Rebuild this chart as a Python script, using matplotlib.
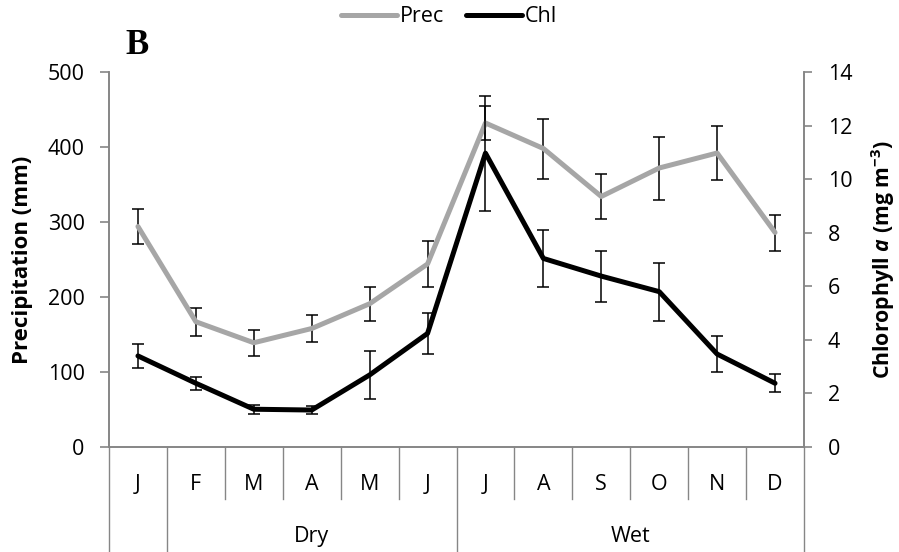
import matplotlib
matplotlib.use("Agg")
import matplotlib.pyplot as plt
import matplotlib.transforms as mtransforms

# ---------------- data ----------------
months = ["J", "F", "M", "A", "M", "J", "J", "A", "S", "O", "N", "D"]
seasons = ["Dry", "Wet"]
season_bounds = [(1, 5), (6, 11)]          # month index ranges (inclusive)
prec = [294, 167, 139, 158, 191, 244, 432, 398, 334, 372, 392, 286]
prec_err = [23, 19, 17, 18, 23, 31, 23, 40, 30, 42, 36, 24]
chl = [3.40, 2.38, 1.41, 1.38, 2.69, 4.24, 10.97, 7.04, 6.38, 5.80, 3.47, 2.38]
chl_err = [0.46, 0.25, 0.16, 0.16, 0.88, 0.78, 2.15, 1.07, 0.95, 1.08, 0.67, 0.34]
prec_ticks = [0, 100, 200, 300, 400, 500]
chl_ticks = [0, 2, 4, 6, 8, 10, 12, 14]

FONT = "Open Sans"
plt.rcParams["font.family"] = [FONT, "DejaVu Sans"]
plt.rcParams["mathtext.fontset"] = "custom"
plt.rcParams["mathtext.rm"] = f"{FONT}:bold"
plt.rcParams["mathtext.it"] = f"{FONT}:italic:bold"
plt.rcParams["mathtext.bf"] = f"{FONT}:bold"

GREY_AX = "#868686"
GREY_LINE = "#a6a6a6"
FS = 15.5
FSL = 16

fig = plt.figure(figsize=(8.99, 5.52), dpi=100)
ax = fig.add_axes([109 / 899, 1 - 447 / 552, (804 - 109) / 899, 375 / 552])
ax2 = ax.twinx()

x = list(range(len(months)))

# Precipitation
ax.errorbar(x, prec, yerr=prec_err, fmt="none", ecolor="black",
            elinewidth=1.1, capsize=4, capthick=1.1, zorder=2)
lp, = ax.plot(x, prec, color=GREY_LINE, lw=3.6, solid_joinstyle="round",
              solid_capstyle="round", zorder=3, label="Prec")
# Chlorophyll
ax2.errorbar(x, chl, yerr=chl_err, fmt="none", ecolor="black",
             elinewidth=1.1, capsize=4, capthick=1.1, zorder=2)
lc, = ax2.plot(x, chl, color="black", lw=3.6, solid_joinstyle="round",
               solid_capstyle="round", zorder=3, label="Chl")

ax.set_xlim(-0.5, len(months) - 0.5)
ax.set_ylim(0, 500)
ax2.set_ylim(0, 14)
ax.set_yticks(prec_ticks)
ax2.set_yticks(chl_ticks)
ax.set_xticks([])
ax2.set_xticks([])

for a in (ax, ax2):
    a.spines["top"].set_visible(False)
    for s in ("left", "right", "bottom"):
        a.spines[s].set_color(GREY_AX)
        a.spines[s].set_linewidth(1.2)
ax.tick_params(axis="y", direction="out", length=6.5, width=1.2, color=GREY_AX,
               labelsize=FS, pad=11)
ax2.tick_params(axis="y", direction="out", length=6, width=1.2, color=GREY_AX,
                labelsize=FS, pad=11)

ax.set_ylabel("Precipitation (mm)", fontsize=FSL, fontweight="bold")
ax2.set_ylabel(r"Chlorophyll $a$ (mg m$^{-3}$)", fontsize=15.3,
               fontweight="bold")
ax.yaxis.set_label_coords(-0.109, 0.5)
ax2.yaxis.set_label_coords(1.093, 0.5)

# Multi-level category axis
trans = mtransforms.blended_transform_factory(ax.transData, ax.transAxes)
y_mon = -43 / 375
y_sep = -52 / 375
y_grp = -95 / 375
y_bot = -105 / 375
for i, m in enumerate(months):
    ax.text(i, y_mon, m, transform=trans, ha="center", va="baseline", fontsize=FS)
group_edges = {season_bounds[0][0] - 0.5, season_bounds[0][1] + 0.5,
               season_bounds[1][1] + 0.5, -0.5}
for k in range(len(months) + 1):
    xe = k - 0.5
    y_end = y_bot if xe in group_edges else y_sep
    ax.plot([xe, xe], [0, y_end], transform=trans, color=GREY_AX, lw=1.0,
            clip_on=False, zorder=1)
for name, (a0, a1) in zip(seasons, season_bounds):
    ax.text((a0 + a1) / 2, y_grp, name, transform=trans, ha="center",
            va="baseline", fontsize=FS)

# Panel letter
fig.text(137 / 899, 1 - 46 / 552, "B", fontsize=25, fontweight="bold",
         family="Liberation Serif", ha="center", va="center")

# Legend
fig.legend(handles=[lp, lc], loc="center", bbox_to_anchor=(449 / 899, 1 - 17 / 552),
           ncol=2, frameon=False, fontsize=FS, handlelength=2.6,
           handletextpad=0.15, columnspacing=1.0, borderaxespad=0)

fig.savefig("out.png", dpi=100)
